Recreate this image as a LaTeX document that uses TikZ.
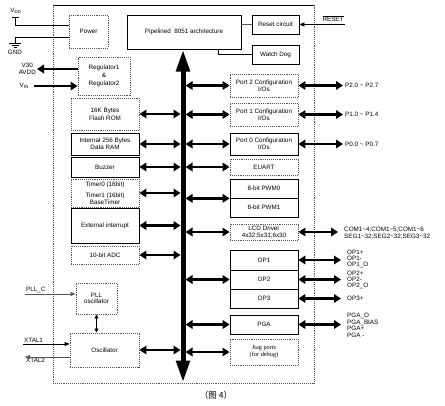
\documentclass[tikz,border=0pt]{standalone}
\usepackage{fontspec}
\setmainfont{Liberation Sans}
\newfontfamily\cjkfont{Noto Sans CJK SC}
\newfontfamily\jtagfont{Liberation Serif}
\usepackage{tikz}
\usetikzlibrary{arrows.meta,positioning}
\definecolor{boxgray}{RGB}{85,85,85}

\begin{document}
\begin{tikzpicture}[x=1pt, y=-1pt,
    font=\fontsize{6.3}{6.6}\selectfont,
    box/.style={draw=black, line width=0.7pt, align=center, inner sep=0pt},
    dbox/.style={draw=boxgray, densely dotted, line width=0.9pt, align=center, inner sep=0pt},
    sz/.style 2 args={minimum width=#1pt, minimum height=#2pt},
    dbl/.style={line width=2.6pt, {Triangle[length=7pt,width=8.5pt]}-{Triangle[length=7pt,width=8.5pt]}},
    outarr/.style={line width=2.6pt, -{Triangle[length=7pt,width=8.5pt]}},
    sig/.style={line width=0.7pt, -{Triangle[length=5pt,width=4pt]}},
    sigtwo/.style={line width=0.7pt, {Triangle[length=4pt,width=4pt]}-{Triangle[length=4pt,width=4pt]}},
    wire/.style={line width=0.7pt},
    pinlbl/.style={inner sep=1pt, align=left},
    oplbl/.style={pinlbl, font=\fontsize{6.3}{5.7}\selectfont}]
    \useasboundingbox (0,0) rectangle (445,405);
    \fill[white] (0,0) rectangle (445,405);

    % Chip outline
    \draw[boxgray, densely dotted, line width=0.9pt] (53,5) rectangle (314,383);
    \draw[line width=0.8pt] (53,5) -- (314,5);

    % Top row
    \node[dbox, sz={39}{33}] (power) at (88.5,31.5) {Power};
    \node[box, sz={114}{34}] (core) at (184,32) {Pipelined \ 8051 architecture};
    \node[box, sz={47}{19}] (reset) at (275.5,24.5) {Reset circuit};
    \node[box, sz={47}{19}] (wdog) at (275.5,54.5) {Watch Dog};
    \draw[wire, boxgray] (core.east |- reset.west) -- (reset.west);
    \draw[wire] ([xshift=34pt]core.south) |- (wdog.west);

    % Left column
    \node[dbox, sz={52}{38}] (reg) at (104,76) {Regulator1\\[1.5pt]\&\\[1.5pt]Regulator2};
    \node[dbox, sz={68}{32}] (flash) at (105,114) {16K Bytes\\[1.5pt]Flash ROM};
    \node[box, sz={68}{22}] (ram) at (105,144) {Internal 256 Bytes\\Data RAM};
    \node[box, sz={68}{20}] (buzz) at (105,167) {Buzzer};
    \node[dbox, sz={68}{28}] (timer) at (105,193) {Timer0 (16bit)\\[5pt]Timer1 (16bit)\\BaseTimer};
    \node[box, sz={68}{35}] (extint) at (105,225.5) {External interrupt};
    \node[dbox, sz={68}{18}] (adc) at (105,255) {10-bit ADC};
    \node[dbox, sz={41}{31}] (pll) at (96.5,298.5) {PLL\\oscillator};
    \node[dbox, sz={69}{34}] (osc) at (104.5,350) {Oscillator};

    % Right column
    \node[dbox, sz={68}{23}] (port2) at (264,85.5) {Port 2 Configuration\\I/Os};
    \node[dbox, sz={68}{23}] (port1) at (264,114.5) {Port 1 Configuration\\I/Os};
    \node[box, sz={68}{22}] (port0) at (264,144) {Port 0 Configuration\\I/Os};
    \node[dbox, sz={68}{16}] (euart) at (264,167) {EUART};
    \node[box, sz={68}{19}] (pwm0) at (264,188.5) {8-bit PWM0};
    \node[box, sz={68}{19}] (pwm1) at (264,207.5) {8-bit PWM1};
    \node[dbox, sz={68}{16}] (lcd) at (264,232) {LCD Driver\\4x32;5x31;6x30};
    \node[box, sz={68}{20}] (op1) at (264,260) {OP1};
    \node[box, sz={68}{19}] (op2) at (264,279.5) {OP2};
    \node[box, sz={68}{19}] (op3) at (264,298.5) {OP3};
    \node[box, sz={68}{19}] (pga) at (264,324.5) {PGA};
    \node[dbox, sz={68}{26}, font=\jtagfont\fontsize{6.3}{7}\selectfont] (jtag) at (264,352) {Jtag ports\\(for debug)};

    % Internal bus
    \coordinate (bustop) at (183,49.5);
    \coordinate (busbot) at (183,382.5);
    \coordinate (busL) at (180.5,0);
    \coordinate (busR) at (185.5,0);
    \draw[line width=5pt, {Triangle[length=22pt,width=13pt]}-{Triangle[length=22pt,width=13pt]}] (bustop) -- (busbot);
    \foreach \blk in {flash,ram,buzz,timer,extint,adc,osc}
        \draw[dbl] (\blk.east) -- (\blk.east -| busL);
    \foreach \blk in {port2,port1,port0,euart,lcd,op2,pga,jtag}
        \draw[dbl] (\blk.west -| busR) -- (\blk.west);
    \draw[dbl] (pwm0.south west -| busR) -- (pwm0.south west);

    % Port pins
    \node[pinlbl, anchor=west] (p2pins) at (344,85.5) {P2.0 \textasciitilde{} P2.7};
    \node[pinlbl, anchor=west] (p1pins) at (344,114.5) {P1.0 \textasciitilde{} P1.4};
    \node[pinlbl, anchor=west] (p0pins) at (344,144) {P0.0 \textasciitilde{} P0.7};
    \node[pinlbl, anchor=west] (lcdpins) at (343,233) {COM1\textasciitilde4;COM1\textasciitilde5;COM1\textasciitilde6\\SEG1\textasciitilde32;SEG2\textasciitilde32;SEG3\textasciitilde32};
    \node[oplbl, anchor=west] (op1pins) at (346,259) {OP1+\\OP1-\\OP1\_O};
    \node[oplbl, anchor=west] (op2pins) at (346,280) {OP2+\\OP2-\\OP2\_O};
    \node[pinlbl, anchor=west] (op3pins) at (346,298.5) {OP3+};
    \node[pinlbl, anchor=west] (pgapins) at (346,325.5) {PGA\_O\\PGA\_BIAS\\PGA+\\PGA -};
    \foreach \blk/\pins in {port2/p2pins,port1/p1pins,port0/p0pins}
        \draw[dbl, shorten >=1pt] (\blk.east) -- (\blk.east -| \pins.west);
    \foreach \blk/\pins in {lcd/lcdpins,op1/op1pins,op2/op2pins,op3/op3pins,pga/pgapins}
        \draw[dbl, shorten >=5pt] (\blk.east) -- (\blk.east -| \pins.west);

    % Reset input
    \node[inner sep=1pt] (rst) at (333,18.5) {$\overline{\mbox{RESET}}$};
    \draw[sig] (rst.south east |- reset.east) -- (reset.east);

    % Supply
    \node[inner sep=1pt] (vdd) at (16,11) {V\textsubscript{DD}};
    \coordinate (vddpin) at (15,17);
    \draw[wire] ([xshift=-3.5pt]vddpin) -- ([xshift=3.5pt]vddpin);
    \draw[wire] (vddpin) |- ([yshift=6.5pt]power.west);
    \coordinate (gndpin) at (15,43);
    \draw[wire] ([yshift=-5.5pt]power.west) -| (gndpin);
    \draw[wire] ([xshift=-6pt]gndpin) -- ([xshift=6pt]gndpin);
    \draw[wire] ([xshift=-3.5pt,yshift=-2pt]gndpin) -- ([xshift=3.5pt,yshift=-2pt]gndpin);
    \draw[wire] ([xshift=-1.5pt,yshift=-4pt]gndpin) -- ([xshift=1.5pt,yshift=-4pt]gndpin);
    \node[inner sep=1pt] (gnd) at (15,52) {GND};

    \node[pinlbl, align=center, anchor=east] (v30) at (37,69) {V30\\AVDD};
    \draw[outarr] (reg.west |- v30.east) -- (v30.east);
    \node[pinlbl, anchor=east] (vin) at (30,86) {V\textsubscript{IN}};
    \draw[outarr, shorten <=4pt] (vin.east) -- (vin.east -| reg.west);

    % Clock
    \node[pinlbl, anchor=south west] (pllc) at (25,294) {PLL\_C};
    \draw[sig, boxgray] (pllc.south west) -- (pllc.south west -| pll.west);
    \node[pinlbl, anchor=south west] (xtal1) at (23,344) {XTAL1};
    \draw[sig] (xtal1.south west) -- (xtal1.south west -| osc.west);
    \node[pinlbl, anchor=north west] (xtal2) at (25,357) {XTAL2};
    \draw[sig, boxgray] (xtal2.north west -| osc.west) -- (xtal2.north west);
    \draw[sigtwo] (pll.south) -- (pll.south |- osc.north);

    \node[font=\cjkfont\fontsize{8.5}{10}\selectfont] (cap) at (216,395) {（图 4）};
\end{tikzpicture}
\end{document}
